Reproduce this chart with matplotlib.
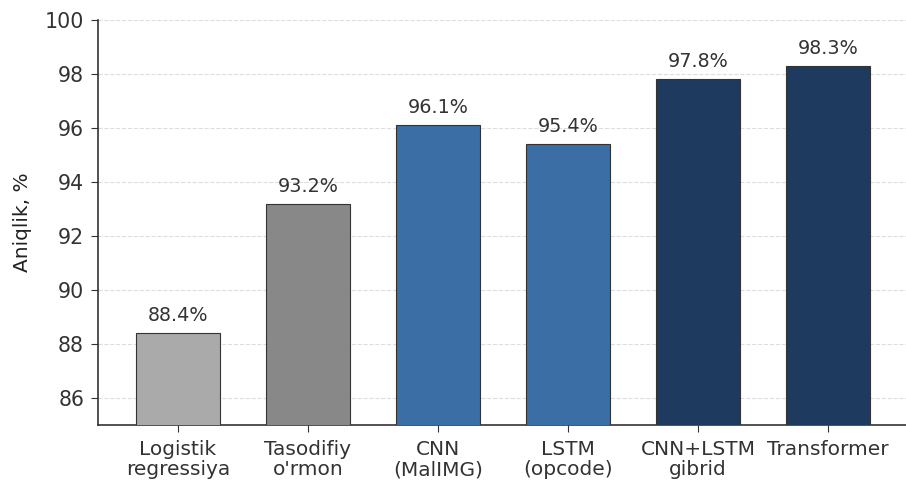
import matplotlib.pyplot as plt
import numpy as np

# Model aniqligi (%)
models = ["Logistik\nregressiya", "Tasodifiy\no'rmon", "CNN\n(MalIMG)",
          "LSTM\n(opcode)", "CNN+LSTM\ngibrid", "Transformer"]
accuracy = [88.4, 93.2, 96.1, 95.4, 97.8, 98.3]
colors = ["#aaaaaa", "#888888", "#3a6ea5", "#3a6ea5", "#1f3a5f", "#1f3a5f"]

plt.rcParams["font.family"] = "DejaVu Sans"
fig = plt.figure(figsize=(9.06, 4.82), dpi=100)
ax = fig.add_axes([98 / 906, 57 / 482, 808 / 906, 405 / 482])

x = np.arange(len(models))
ax.bar(x, accuracy, width=0.65, color=colors, edgecolor="#333333",
       linewidth=0.8, zorder=3)

for xi, v in zip(x, accuracy):
    ax.text(xi, v + 0.3, f"{v}%", ha="center", va="bottom",
            fontsize=13.8, color="#333333", zorder=4)

ax.set_ylim(85, 100)
ax.set_xlim(-0.615, 5.6)
ax.set_yticks(np.arange(86, 101, 2))
ax.set_xticks(x)
ax.set_xticklabels(models, fontsize=14.5, linespacing=1.05)
ax.tick_params(axis="y", labelsize=14.8, colors="#333333", length=5, pad=5)
ax.tick_params(axis="x", colors="#333333", length=5, pad=6)
ax.set_ylabel("Aniqlik, %", fontsize=14.5, color="#222222", labelpad=9)

ax.grid(axis="y", linestyle="--", color="#dddddd", linewidth=0.8, zorder=0)
ax.spines["top"].set_visible(False)
ax.spines["right"].set_visible(False)
ax.spines["left"].set_color("#333333")
ax.spines["bottom"].set_color("#333333")
ax.spines["left"].set_linewidth(1.2)
ax.spines["bottom"].set_linewidth(1.2)

fig.savefig("out.png", dpi=100)
